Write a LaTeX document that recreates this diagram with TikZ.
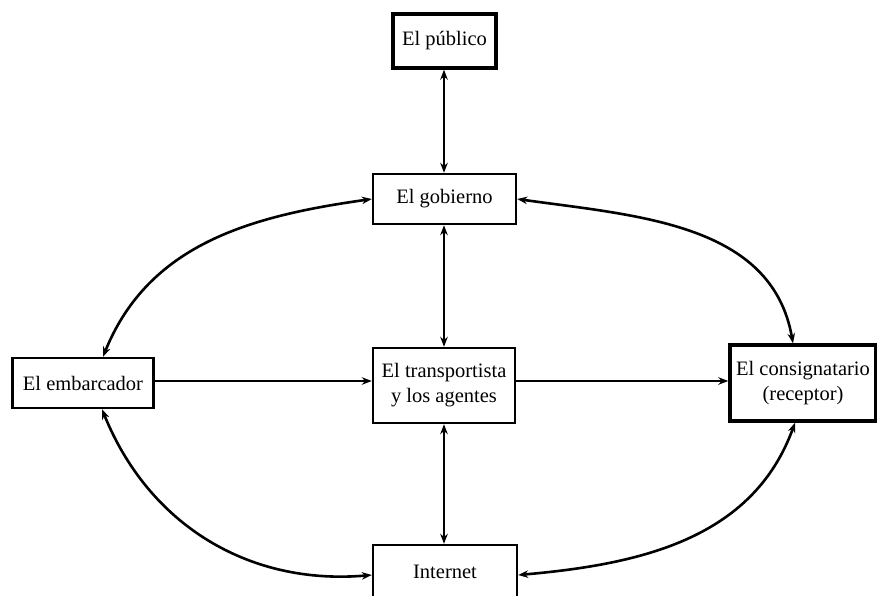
\documentclass[tikz,border=0pt]{standalone}
\usepackage{fontspec}
\setmainfont{Liberation Serif}
\usetikzlibrary{arrows.meta}
\begin{document}
\begin{tikzpicture}[x=1pt,y=-1pt,
  box/.style={draw, line width=2.4pt, fill=white, inner sep=0pt, align=center,
    font=\fontsize{20.5}{25}\selectfont},
  thickbox/.style={box, line width=3.4pt},
  link/.style={line width=2.6pt, {Stealth[length=10pt,width=7.5pt]}-{Stealth[length=10pt,width=7.5pt]}},
  oneway/.style={line width=2.8pt, -{Stealth[length=10pt,width=7.5pt]}}]
\useasboundingbox (0,0) rectangle (877,595);
\node[thickbox, minimum width=103pt, minimum height=54pt] (pub) at (444.5,41) {El público};
\node[box, minimum width=143pt, minimum height=50pt] (gob) at (444.5,199) {El gobierno};
\node[box, minimum width=141pt, minimum height=50pt] (emb) at (83,383) {El embarcador};
\node[box, minimum width=142pt, minimum height=75pt] (tra) at (444,385.5) {El transportista\\y los agentes};
\node[thickbox, minimum width=146pt, minimum height=76pt] (con) at (803,383) {El consignatario\\(receptor)};
\node[box, minimum width=144pt, minimum height=54pt] (int) at (445,572) {Internet};
% vertical links
\draw[link] (pub.south -| 444,0) -- (gob.north -| 444,0);
\draw[link] (gob.south -| 444,0) -- (tra.north -| 444,0);
\draw[link] (tra.south -| 444,0) -- (int.north -| 444,0);
% horizontal
\draw[oneway] (emb.east |- 0,381) -- (tra.west |- 0,381);
\draw[oneway] (tra.east |- 0,381) -- (con.west |- 0,381);
% curves
\draw[link] (gob.west) to[out=188,in=68] (emb.north -| 103,0);
\draw[link] (gob.east) to[out=-8,in=100] (con.north -| 793,0);
\draw[link] (emb.south -| 102,0) to[out=-68,in=185] (int.west |- 0,575);
\draw[link] (int.east |- 0,575) to[out=5,in=-110] (con.south -| 795,0);
\end{tikzpicture}
\end{document}
